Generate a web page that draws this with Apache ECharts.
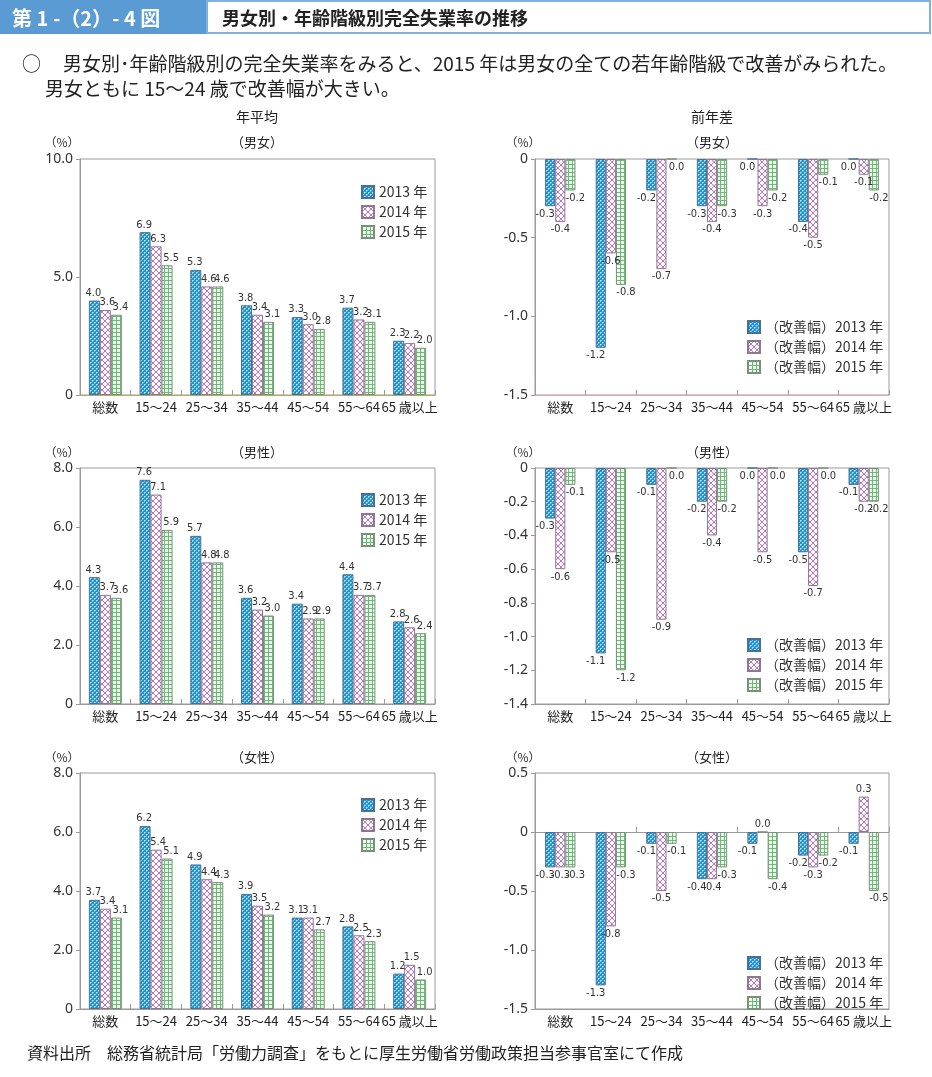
<!DOCTYPE html>
<html><head><meta charset="utf-8">
<script src="https://cdn.jsdelivr.net/npm/echarts@6/dist/echarts.min.js"></script>
<style>html,body{margin:0;padding:0;background:#fff}#c{width:932px;height:1077px}</style>
</head><body><div id="c"></div>
<script>
// ---------- data ----------
const categories = ['総数', '15～24', '25～34', '35～44', '45～54', '55～64', '65 歳以上'];
const yearNames = ['2013 年', '2014 年', '2015 年'];
const diffNames = ['（改善幅）2013 年', '（改善幅）2014 年', '（改善幅）2015 年'];

// 年平均（完全失業率, %）
const bothRate2013 = [4.0, 6.9, 5.3, 3.8, 3.3, 3.7, 2.3];
const bothRate2014 = [3.6, 6.3, 4.6, 3.4, 3.0, 3.2, 2.2];
const bothRate2015 = [3.4, 5.5, 4.6, 3.1, 2.8, 3.1, 2.0];
const menRate2013 = [4.3, 7.6, 5.7, 3.6, 3.4, 4.4, 2.8];
const menRate2014 = [3.7, 7.1, 4.8, 3.2, 2.9, 3.7, 2.6];
const menRate2015 = [3.6, 5.9, 4.8, 3.0, 2.9, 3.7, 2.4];
const womenRate2013 = [3.7, 6.2, 4.9, 3.9, 3.1, 2.8, 1.2];
const womenRate2014 = [3.4, 5.4, 4.4, 3.5, 3.1, 2.5, 1.5];
const womenRate2015 = [3.1, 5.1, 4.3, 3.2, 2.7, 2.3, 1.0];

// 前年差（%ポイント）
const bothDiff2013 = [-0.3, -1.2, -0.2, -0.3, 0.0, -0.4, 0.0];
const bothDiff2014 = [-0.4, -0.6, -0.7, -0.4, -0.3, -0.5, -0.1];
const bothDiff2015 = [-0.2, -0.8, 0.0, -0.3, -0.2, -0.1, -0.2];
const menDiff2013 = [-0.3, -1.1, -0.1, -0.2, 0.0, -0.5, -0.1];
const menDiff2014 = [-0.6, -0.5, -0.9, -0.4, -0.5, -0.7, -0.2];
const menDiff2015 = [-0.1, -1.2, 0.0, -0.2, 0.0, 0.0, -0.2];
const womenDiff2013 = [-0.3, -1.3, -0.1, -0.4, -0.1, -0.2, -0.1];
const womenDiff2014 = [-0.3, -0.8, -0.5, -0.4, 0.0, -0.3, 0.3];
const womenDiff2015 = [-0.3, -0.3, -0.1, -0.3, -0.4, -0.2, -0.5];

// y-axis scales per panel
const axisMin = [0, -1.5, 0, -1.4, 0, -1.5];
const axisMax = [10, 0, 8, 0, 8, 0.5];
const axisStep = [5, 0.5, 2, 0.2, 2, 0.5];

const panelTitles = ['（男女）', '（男女）', '（男性）', '（男性）', '（女性）', '（女性）'];

// ---------- styles ----------
const FONT = "'Noto Sans CJK JP', 'Noto Sans', sans-serif";
const NUMFONT = "'Liberation Sans Narrow', 'DejaVu Sans Condensed', 'Roboto', sans-serif";

function makePattern(kind) {
  const c = document.createElement('canvas');
  const ctx = c.getContext('2d');
  if (kind === 0) {
    c.width = 4; c.height = 4;
    ctx.fillStyle = '#2590d2'; ctx.fillRect(0, 0, 4, 4);
    ctx.fillStyle = '#bfe9ff';
    ctx.fillRect(0, 0, 1, 1); ctx.fillRect(2, 2, 1, 1);
    ctx.fillStyle = '#7cc8f0';
    ctx.fillRect(1, 0, 1, 1); ctx.fillRect(0, 1, 1, 1); ctx.fillRect(3, 2, 1, 1); ctx.fillRect(2, 3, 1, 1);
  } else if (kind === 1) {
    c.width = 6; c.height = 6;
    ctx.fillStyle = '#ffffff'; ctx.fillRect(0, 0, 6, 6);
    ctx.fillStyle = '#c46ec9';
    for (let i = 0; i < 6; i++) { ctx.fillRect(i, i, 1, 1); ctx.fillRect(5 - i, i, 1, 1); }
  } else {
    c.width = 4; c.height = 4;
    ctx.fillStyle = '#eef8ee'; ctx.fillRect(0, 0, 4, 4);
    ctx.fillStyle = '#6cbb74';
    ctx.fillRect(0, 0, 4, 1); ctx.fillRect(0, 0, 1, 4);
  }
  return { image: c, repeat: 'repeat' };
}
const patterns = [makePattern(0), makePattern(1), makePattern(2)];
const borderColors = ['#4a7090', '#8a7a8e', '#7a907c'];

// ---------- layout ----------
const gridDefs = [
  { left: 80, top: 159 }, { left: 535, top: 159 },
  { left: 80, top: 468 }, { left: 535, top: 468 },
  { left: 80, top: 773 }, { left: 535, top: 773 }
];
const legendTops = [180, 315, 488, 633, 793, 951];

const panelData = [
  [bothRate2013, bothRate2014, bothRate2015],
  [bothDiff2013, bothDiff2014, bothDiff2015],
  [menRate2013, menRate2014, menRate2015],
  [menDiff2013, menDiff2014, menDiff2015],
  [womenRate2013, womenRate2014, womenRate2015],
  [womenDiff2013, womenDiff2014, womenDiff2015]
];

const grid = gridDefs.map(g => ({
  left: g.left, top: g.top, width: g.left === 80 ? 355 : 354, height: 236,
  show: true, borderColor: '#9a9a9a', borderWidth: 1, backgroundColor: 'transparent'
}));

const fmtTick = v => (Math.abs(v) < 1e-9 ? '0' : Number(v).toFixed(1));

const yAxis = gridDefs.map((g, p) => ({
  type: 'value', gridIndex: p, min: axisMin[p], max: axisMax[p], interval: axisStep[p],
  axisLine: { show: true, lineStyle: { color: '#9a9a9a' } },
  axisTick: { show: true, length: 4, lineStyle: { color: '#b09090' } },
  splitLine: { show: false },
  axisLabel: { fontSize: 14, color: '#333', fontFamily: "'Noto Sans', sans-serif", margin: 7, formatter: fmtTick }
}));

const xAxis = gridDefs.map((g, p) => ({
  type: 'category', gridIndex: p, data: categories, position: 'bottom',
  axisLine: { onZero: false, lineStyle: { color: p === 1 ? '#e3a3aa' : '#9a9a9a' } },
  axisTick: { show: p !== 5, inside: true, length: 5, lineStyle: { color: '#9a9a9a' } },
  axisLabel: { fontSize: 13, color: '#222', fontFamily: FONT, margin: 6, interval: 0 }
}));
// olive top edge of the first panel
xAxis.push({
  type: 'category', gridIndex: 0, data: categories, position: 'top',
  axisLine: { lineStyle: { color: '#b7a85c' } }, axisTick: { show: false }, axisLabel: { show: false }
});
// zero line with ticks in the last panel
xAxis.push({
  type: 'category', gridIndex: 5, data: categories, position: 'bottom',
  axisLine: { onZero: true, lineStyle: { color: '#9a9a9a' } },
  axisTick: { show: true, inside: true, length: 5, lineStyle: { color: '#9a9a9a' } },
  axisLabel: { show: false }
});

const series = [];
panelData.forEach((arrs, p) => {
  const isDiff = p % 2 === 1;
  arrs.forEach((vals, k) => {
    const offs = isDiff ? [[-5, 0], [0, 0], [5, 0]][k] : [[-1, 0], [2, 0], [4, 0]][k];
    series.push({
      type: 'bar',
      name: isDiff ? diffNames[k] : yearNames[k],
      xAxisIndex: p, yAxisIndex: p,
      barGap: '0%', barCategoryGap: isDiff ? '40%' : '35%',
      itemStyle: { color: patterns[k], borderColor: borderColors[k], borderWidth: 1 },
      emphasis: { disabled: true },
      animation: false,
      data: vals.map(v => {
        let pos;
        if (v > 0) pos = 'top';
        else if (v < 0) pos = 'bottom';
        else pos = (p === 5) ? 'top' : (isDiff ? 'bottom' : 'top');
        return { value: v, label: { position: pos } };
      }),
      label: {
        show: true, distance: 2, offset: offs,
        fontSize: 11, color: '#333', fontFamily: NUMFONT,
        formatter: prm => Number(prm.value).toFixed(1)
      }
    });
  });
});

const legend = gridDefs.map((g, p) => ({
  data: p % 2 === 1 ? diffNames : yearNames,
  orient: 'vertical',
  left: p % 2 === 1 ? 742 : 356, top: legendTops[p],
  itemWidth: 12, itemHeight: 12, itemGap: 6, itemTextGap: 5,
  selectedMode: false, icon: 'rect',
  textStyle: { fontSize: 14, color: '#333', fontFamily: FONT }
}));

const graphic = [
  { type: 'rect', shape: { x: 0, y: 0, width: 206, height: 34 }, style: { fill: '#5a9bd4' } },
  { type: 'rect', shape: { x: 207, y: 1, width: 723, height: 32 }, style: { fill: '#fff', stroke: '#7fb2df', lineWidth: 2 } },
  { type: 'text', style: { x: 12, y: 18, text: '第 1 -（2）- 4 図', font: "bold 20px " + FONT, fill: '#fff', textVerticalAlign: 'middle' } },
  { type: 'text', style: { x: 222, y: 18, text: '男女別・年齢階級別完全失業率の推移', font: "bold 18px " + FONT, fill: '#222', textVerticalAlign: 'middle' } },
  { type: 'text', style: { x: 22, y: 64, text: '○', font: "19px " + FONT, fill: '#222', textVerticalAlign: 'middle' } },
  { type: 'text', style: { x: 63, y: 64, text: '男女別･年齢階級別の完全失業率をみると、2015 年は男女の全ての若年齢階級で改善がみられた。', font: "19px " + FONT, fill: '#222', textVerticalAlign: 'middle' } },
  { type: 'text', style: { x: 45, y: 89, text: '男女ともに 15～24 歳で改善幅が大きい。', font: "19px " + FONT, fill: '#222', textVerticalAlign: 'middle' } },
  { type: 'text', style: { x: 257, y: 117, text: '年平均', font: "14px " + FONT, fill: '#222', textAlign: 'center', textVerticalAlign: 'middle' } },
  { type: 'text', style: { x: 712, y: 117, text: '前年差', font: "14px " + FONT, fill: '#222', textAlign: 'center', textVerticalAlign: 'middle' } },
  { type: 'text', style: { x: 27, y: 1053, text: '資料出所　総務省統計局「労働力調査」をもとに厚生労働省労働政策担当参事官室にて作成', font: "16px " + FONT, fill: '#222', textVerticalAlign: 'middle' } }
];
const titleY = [142, 142, 452, 452, 757, 757];
gridDefs.forEach((g, p) => {
  const cx = p % 2 === 1 ? 712 : 257;
  graphic.push({ type: 'text', style: { x: cx, y: titleY[p], text: panelTitles[p], font: "13px " + FONT, fill: '#222', textAlign: 'center', textVerticalAlign: 'middle' } });
  graphic.push({ type: 'text', style: { x: p % 2 === 1 ? 523 : 62, y: titleY[p], text: '（%）', font: "12px " + FONT, fill: '#333', textAlign: 'center', textVerticalAlign: 'middle' } });
});

const chart = echarts.init(document.getElementById('c'), null, { renderer: 'canvas' });
chart.setOption({
  animation: false,
  backgroundColor: '#fff',
  grid, xAxis, yAxis, series, legend, graphic
});
</script>
</body></html>
